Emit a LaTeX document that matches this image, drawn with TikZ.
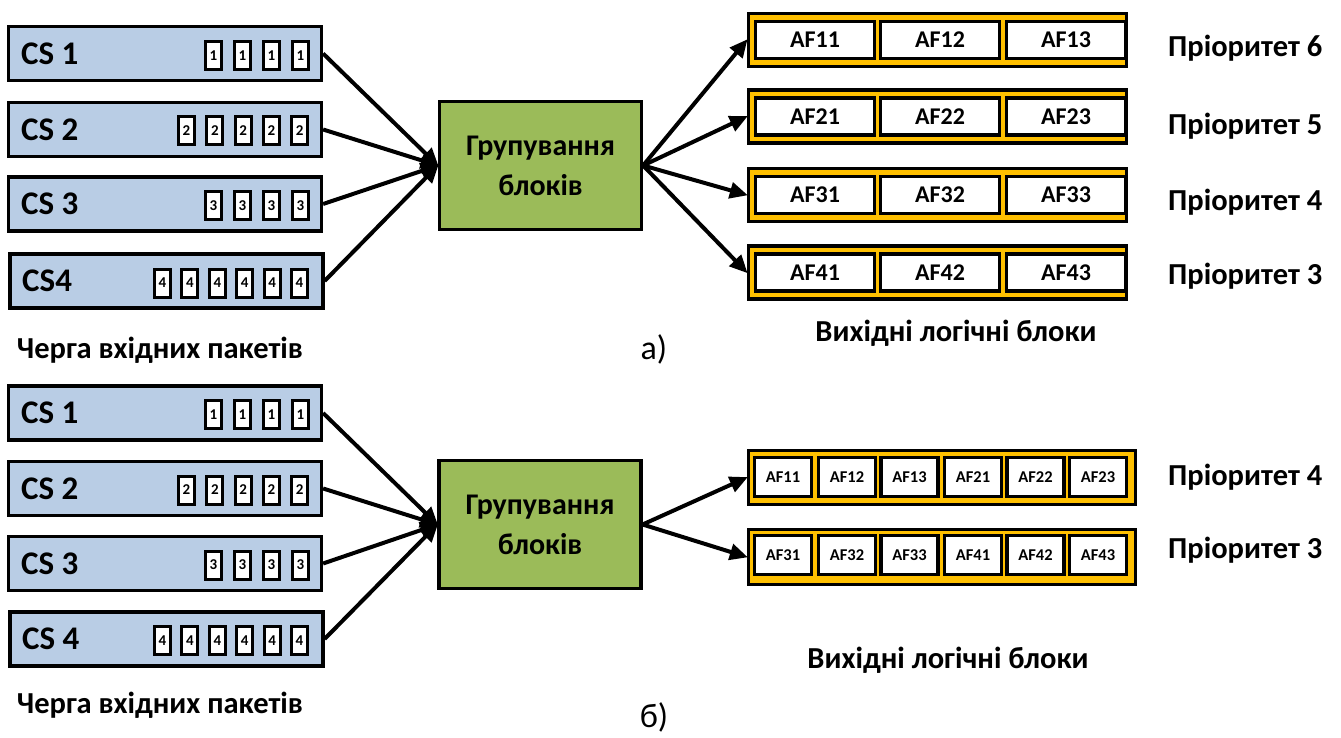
\documentclass[tikz,border=0pt]{standalone}
\usepackage{fontspec}
\setmainfont{Carlito}
\usetikzlibrary{arrows.meta}
\definecolor{csblue}{HTML}{B9CDE5}
\definecolor{grpgreen}{HTML}{9BBB59}
\definecolor{afyellow}{HTML}{FFC000}
\tikzset{
  csbox/.style={draw, line width=3.2pt, fill=csblue, minimum width=313pt, minimum height=54pt, inner sep=0pt},
  cslabel/.style={anchor=west, font=\bfseries\fontsize{33}{33}\selectfont, inner sep=0pt},
  pkt/.style={draw, line width=3pt, fill=white, minimum width=16pt, minimum height=28pt, inner sep=0pt, font=\bfseries\fontsize{15}{15}\selectfont},
  grp/.style={draw, line width=3.2pt, fill=grpgreen, minimum width=202pt, minimum height=128pt, align=center, font=\bfseries\fontsize{30}{40}\selectfont},
  afrow/.style={draw, line width=3.2pt, fill=afyellow, inner sep=0pt},
  afcell/.style={draw, line width=3.2pt, fill=white, inner sep=0pt, font=\bfseries\fontsize{24}{24}\selectfont},
  afsmall/.style={afcell, font=\bfseries\fontsize{16.5}{16.5}\selectfont},
  prio/.style={anchor=west, font=\bfseries\fontsize{30.5}{30.5}\selectfont, inner sep=0pt},
  caption/.style={font=\bfseries\fontsize{30.5}{30.5}\selectfont, inner sep=0pt},
  sublabel/.style={font=\fontsize{34}{34}\selectfont, inner sep=0pt},
  arr/.style={line width=4pt, -{Triangle[length=18pt, width=16pt]}, shorten >=-1pt},
}
\begin{document}
\begin{tikzpicture}[x=1pt, y=-1pt]
\useasboundingbox (0,0) rectangle (1341,738);

% ---------- part a ----------
\node[csbox] (a1) at (165,53.5) {};
\node[csbox] (a2) at (165,129.5) {};
\node[csbox] (a3) at (165,204) {};
\node[csbox] (a4) at (166.5,281) {};
\node[cslabel] at (21,53.5) {CS 1};
\node[cslabel] at (21,129.5) {CS 2};
\node[cslabel] at (21,204) {CS 3};
\node[cslabel] at (22,281) {CS4};
\foreach \k in {0,...,3} \node[pkt] (a1p\k) at (213.5+29*\k,55.5) {1};
\foreach \k in {0,...,4} \node[pkt] (a2p\k) at (186.5+28.3*\k,131) {2};
\foreach \k in {0,...,3} \node[pkt] (a3p\k) at (213.5+29*\k,206) {3};
\foreach \k in {0,...,5} \node[pkt] (a4p\k) at (162.5+27.4*\k,283) {4};

\node[grp] (ga) at (540.5,165.5) {Групування\\блоків};

\foreach \r/\y in {1/40,2/116.5,3/195,4/272.5}{
  \node[afrow, minimum width=378pt, minimum height=53pt] (ar\r) at (937.5,\y) {};
  \foreach \c/\x in {1/815,2/940,3/1066}
    \node[afcell, minimum width=119pt, minimum height=37pt] (ac\r\c) at (\x,\y) {AF\r\c};
}
\node[prio] (pa6) at (1168,48) {Пріоритет 6};
\node[prio] (pa5) at (1168,126) {Пріоритет 5};
\node[prio] (pa4) at (1168,202) {Пріоритет 4};
\node[prio] (pa3) at (1168,276) {Пріоритет 3};

\foreach \i in {1,...,4} \draw[arr] (a\i.east) -- (ga.west);
\foreach \i in {1,...,4} \draw[arr] (ga.east) -- (ar\i.west);

\node[caption] (qa) at (160,350) {Черга вхідних пакетів};
\node[caption] (oa) at (956,333) {Вихідні логічні блоки};
\node[sublabel] (la) at (654,349) {а)};

% ---------- part b ----------
\node[csbox] (b1) at (165,413) {};
\node[csbox] (b2) at (165,488.5) {};
\node[csbox] (b3) at (165,563.5) {};
\node[csbox] (b4) at (166.5,639) {};
\node[cslabel] at (21,413) {CS 1};
\node[cslabel] at (21,488.5) {CS 2};
\node[cslabel] at (21,563.5) {CS 3};
\node[cslabel] at (22,639) {CS 4};
\foreach \k in {0,...,3} \node[pkt] (b1p\k) at (213.5+29*\k,414.5) {1};
\foreach \k in {0,...,4} \node[pkt] (b2p\k) at (186.5+28.3*\k,490) {2};
\foreach \k in {0,...,3} \node[pkt] (b3p\k) at (213.5+29*\k,565) {3};
\foreach \k in {0,...,5} \node[pkt] (b4p\k) at (162.5+27.4*\k,640.5) {4};

\node[grp] (gb) at (540,524.5) {Групування\\блоків};

\node[afrow, minimum width=387pt, minimum height=54pt] (br1) at (942,477.5) {};
\node[afrow, minimum width=387pt, minimum height=55pt] (br2) at (942,557) {};
\foreach \c/\x/\t in {1/783/AF11,2/847/AF12,3/909.5/AF13,4/973/AF21,5/1035.5/AF22,6/1098/AF23}
  \node[afsmall, minimum width=57pt, minimum height=39pt] (bc1\c) at (\x,477) {\t};
\foreach \c/\x/\t in {1/783/AF31,2/847/AF32,3/909.5/AF33,4/973/AF41,5/1035.5/AF42,6/1098/AF43}
  \node[afsmall, minimum width=57pt, minimum height=39pt] (bc2\c) at (\x,555) {\t};
\node[prio] (pb4) at (1168,477) {Пріоритет 4};
\node[prio] (pb3) at (1168,550) {Пріоритет 3};

\foreach \i in {1,...,4} \draw[arr] (b\i.east) -- (gb.west);
\foreach \i in {1,2} \draw[arr] (gb.east) -- (br\i.west);

\node[caption] (qb) at (160,705) {Черга вхідних пакетів};
\node[caption] (ob) at (948,660) {Вихідні логічні блоки};
\node[sublabel] (lb) at (654,717) {б)};
\end{tikzpicture}
\end{document}
